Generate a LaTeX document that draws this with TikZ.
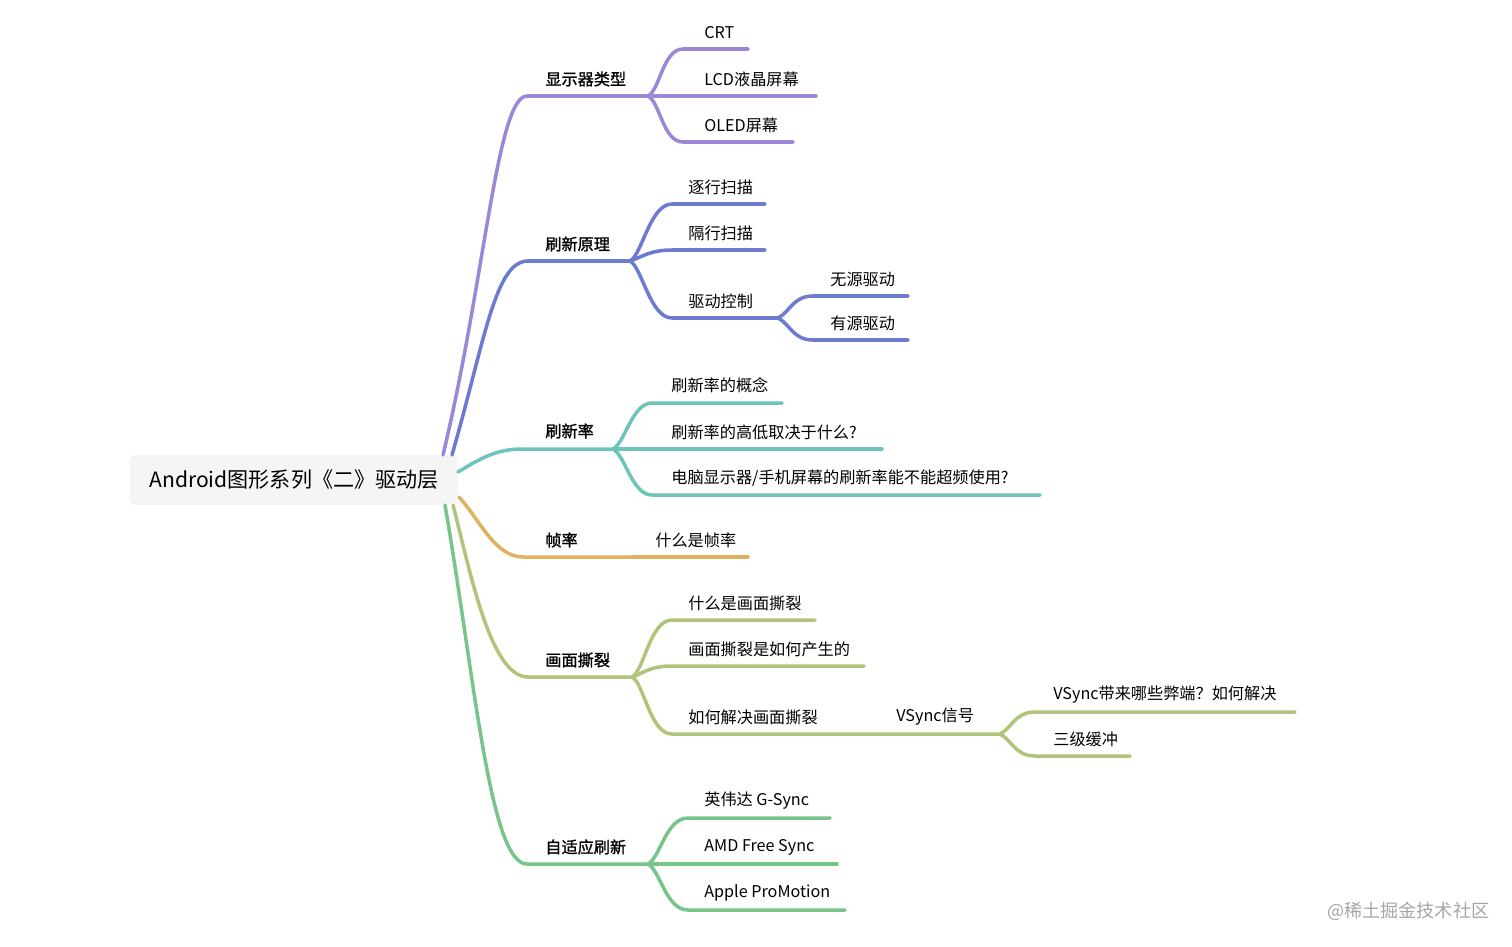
\documentclass[tikz,border=0pt]{standalone}
\usepackage{fontspec}
\setmainfont{Noto Sans CJK SC}
\newfontfamily\temafont[FakeBold=1.2]{Noto Sans CJK SC}
\usepackage{xcolor}
\usepackage{tikz}
\usetikzlibrary{positioning}

\definecolor{morado}{RGB}{155,135,214}
\definecolor{azul}{RGB}{108,122,208}
\definecolor{turquesa}{RGB}{110,196,186}
\definecolor{dorado}{RGB}{222,178,94}
\definecolor{oliva}{RGB}{176,196,122}
\definecolor{verde}{RGB}{120,196,138}

\begin{document}
\begin{tikzpicture}[x=0.02cm, y=-0.02cm, every node/.style={inner sep=0pt, anchor=west}]
\tikzstyle{raiz}=[
    rectangle,
    anchor=center,
    fill=black!4,
    rounded corners=3pt,
    minimum width=328*0.02cm,
    minimum height=50*0.02cm,
    font=\fontsize{12pt}{14pt}\selectfont % texto central
]
\tikzstyle{tema}=[font=\fontsize{9.2pt}{11pt}\temafont]
\tikzstyle{hoja}=[font=\fontsize{9.2pt}{11pt}\selectfont]
\tikzstyle{rama}=[line width=2pt, line cap=round]
\tikzstyle{purpleedge}=[rama, morado]
\tikzstyle{blueedge}=[rama, azul]
\tikzstyle{tealedge}=[rama, turquesa]
\tikzstyle{goldedge}=[rama, dorado]
\tikzstyle{oliveedge}=[rama, oliva]
\tikzstyle{greenedge}=[rama, verde]

\useasboundingbox (0,0) rectangle (1512,947);

% Raiz
\node[raiz] (root) at (294,480) {Android图形系列《二》驱动层};
\coordinate (r1) at (443,455);
\coordinate (r2) at (452,455);
\coordinate (r3) at (458,472);
\coordinate (r4) at (459,497);
\coordinate (r5) at (453,505);
\coordinate (r6) at (445,505);

% Temas
\node[tema] (t1) at (545,79) {显示器类型};
\node[tema] (t2) at (545,244) {刷新原理};
\node[tema] (t3) at (545,431) {刷新率};
\node[tema] (t4) at (545,540) {帧率};
\node[tema] (t5) at (545,660) {画面撕裂};
\node[tema] (t6) at (545,847) {自适应刷新};

\coordinate (t1a) at (527,96);  \coordinate (t1b) at (648,96);
\coordinate (t2a) at (528,261); \coordinate (t2b) at (630,261);
\coordinate (t3a) at (522,449); \coordinate (t3b) at (613,449);
\coordinate (t4a) at (523,557); \coordinate (t4b) at (632,557);
\coordinate (t5a) at (528,677); \coordinate (t5b) at (632,677);
\coordinate (t6a) at (527,864); \coordinate (t6b) at (648,864);

\draw[purpleedge] (r1) .. controls (485,280) and (497,96) .. (t1a) -- (t1b);
\draw[blueedge] (r2) .. controls (485,340) and (495,261) .. (t2a) -- (t2b);
\draw[tealedge] (r3) .. controls (478,460) and (495,449) .. (t3a) -- (t3b);
\draw[goldedge] (r4) .. controls (480,520) and (495,557) .. (t4a) -- (t4b);
\draw[oliveedge] (r5) .. controls (470,570) and (490,677) .. (t5a) -- (t5b);
\draw[greenedge] (r6) .. controls (475,680) and (490,864) .. (t6a) -- (t6b);

% Hojas: display
\node[hoja] (h1) at (704,33) {CRT};
\node[hoja] (h2) at (704,79) {LCD液晶屏幕};
\node[hoja] (h3) at (704,125) {OLED屏幕};
\coordinate (h1a) at (683,49);  \coordinate (h1b) at (748,49);
\coordinate (h2b) at (816,96);
\coordinate (h3a) at (683,142); \coordinate (h3b) at (793,142);
\draw[purpleedge] (t1b) .. controls +(12,-6) and +(-20,0) .. (h1a) -- (h1b);
\draw[purpleedge] (t1b) -- (h2b);
\draw[purpleedge] (t1b) .. controls +(12,6) and +(-20,0) .. (h3a) -- (h3b);

% Hojas: refresh principle
\node[hoja] (h4) at (688,187) {逐行扫描};
\node[hoja] (h5) at (688,233) {隔行扫描};
\node[hoja] (h6) at (688,301) {驱动控制};
\node[hoja] (h7) at (830,279) {无源驱动};
\node[hoja] (h8) at (830,323) {有源驱动};
\coordinate (h4a) at (672,204); \coordinate (h4b) at (765,204);
\coordinate (h5a) at (672,250); \coordinate (h5b) at (765,250);
\coordinate (h6a) at (672,318); \coordinate (h6b) at (778,318);
\coordinate (h7a) at (813,296); \coordinate (h7b) at (908,296);
\coordinate (h8a) at (813,340); \coordinate (h8b) at (908,340);
\draw[blueedge] (t2b) .. controls +(12,-6) and +(-22,0) .. (h4a) -- (h4b);
\draw[blueedge] (t2b) .. controls +(12,-4) and +(-22,0) .. (h5a) -- (h5b);
\draw[blueedge] (t2b) .. controls +(12,6) and +(-22,0) .. (h6a) -- (h6b);
\draw[blueedge] (h6b) .. controls +(12,-6) and +(-20,0) .. (h7a) -- (h7b);
\draw[blueedge] (h6b) .. controls +(12,6) and +(-20,0) .. (h8a) -- (h8b);

% Hojas: refresh rate
\node[hoja] (h9) at (671,385) {刷新率的概念};
\node[hoja] (h10) at (671,432) {刷新率的高低取决于什么?};
\node[hoja] (h11) at (671,478) {电脑显示器/手机屏幕的刷新率能不能超频使用?};
\coordinate (h9a) at (652,403);  \coordinate (h9b) at (782,403);
\coordinate (h10b) at (882,449);
\coordinate (h11a) at (652,495); \coordinate (h11b) at (1040,495);
\draw[tealedge] (t3b) .. controls +(12,-6) and +(-20,0) .. (h9a) -- (h9b);
\draw[tealedge] (t3b) -- (h10b);
\draw[tealedge] (t3b) .. controls +(12,6) and +(-20,0) .. (h11a) -- (h11b);

% Hojas: frame rate
\node[hoja] (h12) at (655,540) {什么是帧率};
\coordinate (h12b) at (748,557);
\draw[goldedge] (t4b) -- (h12b);

% Hojas: tearing
\node[hoja] (h13) at (688,603) {什么是画面撕裂};
\node[hoja] (h14) at (688,649) {画面撕裂是如何产生的};
\node[hoja] (h15) at (688,717) {如何解决画面撕裂};
\node[hoja] (h16) at (896,717) {VSync信号};
\node[hoja] (h17) at (1053,695) {VSync带来哪些弊端？如何解决};
\node[hoja] (h18) at (1053,739) {三级缓冲};
\coordinate (h13a) at (672,620); \coordinate (h13b) at (815,620);
\coordinate (h14a) at (672,666); \coordinate (h14b) at (864,666);
\coordinate (h15a) at (672,734); \coordinate (h15b) at (878,734);
\coordinate (h16b) at (1000,734);
\coordinate (h17a) at (1035,712); \coordinate (h17b) at (1295,712);
\coordinate (h18a) at (1035,756); \coordinate (h18b) at (1130,756);
\draw[oliveedge] (t5b) .. controls +(12,-6) and +(-22,0) .. (h13a) -- (h13b);
\draw[oliveedge] (t5b) .. controls +(12,-4) and +(-22,0) .. (h14a) -- (h14b);
\draw[oliveedge] (t5b) .. controls +(12,6) and +(-22,0) .. (h15a) -- (h15b) -- (h16b);
\draw[oliveedge] (h16b) .. controls +(12,-6) and +(-20,0) .. (h17a) -- (h17b);
\draw[oliveedge] (h16b) .. controls +(12,6) and +(-20,0) .. (h18a) -- (h18b);

% Hojas: adaptive sync
\node[hoja] (h19) at (704,801) {英伟达 G-Sync};
\node[hoja] (h20) at (704,847) {AMD Free Sync};
\node[hoja] (h21) at (704,893) {Apple ProMotion};
\coordinate (h19a) at (688,818); \coordinate (h19b) at (830,818);
\coordinate (h20b) at (837,864);
\coordinate (h21a) at (688,910); \coordinate (h21b) at (845,910);
\draw[greenedge] (t6b) .. controls +(12,-6) and +(-22,0) .. (h19a) -- (h19b);
\draw[greenedge] (t6b) -- (h20b);
\draw[greenedge] (t6b) .. controls +(12,6) and +(-22,0) .. (h21a) -- (h21b);

% Marca
\node[font=\fontsize{10.3pt}{12pt}\selectfont, text=black!35] (marca) at (1327,911) {@稀土掘金技术社区};

\end{tikzpicture}
\end{document}
